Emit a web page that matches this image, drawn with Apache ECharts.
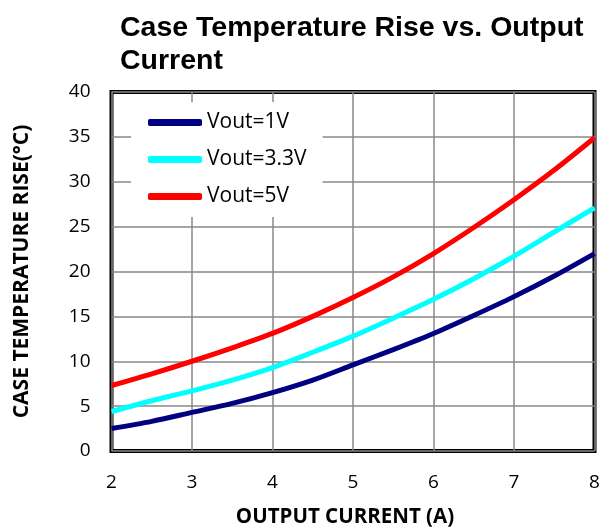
<!DOCTYPE html>
<html>
<head>
<meta charset="utf-8">
<script src="https://cdn.jsdelivr.net/npm/echarts@6/dist/echarts.min.js"></script>
<style>
  html, body { margin: 0; padding: 0; background: #fff; }
  #chart { width: 600px; height: 527px; }
</style>
</head>
<body>
<div id="chart"></div>
<script>
// output current (A)
const currents = [2, 2.5, 3, 3.5, 4, 4.5, 5, 5.5, 6, 6.5, 7, 7.5, 8];
// case temperature rise (°C) for each output voltage
const rise1V = [2.5, 3.3, 4.3, 5.3, 6.5, 7.9, 9.6, 11.3, 13.1, 15.1, 17.2, 19.5, 22.0];
const rise3V3 = [4.4, 5.6, 6.7, 7.9, 9.3, 11.0, 12.8, 14.8, 16.9, 19.2, 21.7, 24.4, 27.1];
const rise5V = [7.3, 8.6, 10.0, 11.5, 13.1, 15.0, 17.1, 19.4, 22.0, 24.9, 28.0, 31.3, 34.9];
const seriesNames = ['Vout=1V', 'Vout=3.3V', 'Vout=5V'];
const seriesColors = ['#000080', '#00ffff', '#ff0000'];

const chart = echarts.init(document.getElementById('chart'));

const makeSeries = (name, values, color) => ({
  name: name,
  type: 'line',
  smooth: 0.3,
  showSymbol: false,
  data: currents.map((x, i) => [x, values[i]]),
  lineStyle: { color: color, width: 5 },
  itemStyle: { color: color }
});

const option = {
  animation: false,
  title: {
    text: 'Case Temperature Rise vs. Output\nCurrent',
    left: 115,
    top: 7,
    textStyle: {
      fontFamily: 'Liberation Sans',
      fontWeight: 'bold',
      fontSize: 28.5,
      lineHeight: 33,
      color: '#000'
    }
  },
  legend: {
    orient: 'vertical',
    left: 131,
    top: 102,
    padding: [10, 16, 10, 17],
    backgroundColor: '#fff',
    itemWidth: 54,
    itemHeight: 7,
    itemGap: 16,
    icon: 'roundRect',
    data: seriesNames,
    textStyle: { fontFamily: 'Open Sans', fontSize: 21, color: '#000' }
  },
  grid: {
    left: 111.5,
    right: 5.5,
    top: 92,
    bottom: 76,
    outerBoundsMode: 'none',
    show: true,
    borderColor: '#000',
    borderWidth: 4
  },
  xAxis: {
    type: 'value',
    min: 2,
    max: 8,
    interval: 1,
    name: 'OUTPUT CURRENT (A)',
    nameLocation: 'middle',
    nameGap: 56,
    nameTextStyle: {
      fontFamily: 'Open Sans', fontWeight: 'bold', fontSize: 20.5, color: '#000',
      padding: [0, 16, 0, 0]
    },
    axisLine: { show: false },
    axisTick: { show: false },
    axisLabel: { fontFamily: 'Open Sans', fontSize: 19, color: '#000', margin: 22 },
    splitLine: { lineStyle: { color: '#888', width: 1.5 } }
  },
  yAxis: {
    type: 'value',
    min: 0,
    max: 40,
    interval: 5,
    name: 'CASE TEMPERATURE RISE(\u00b0C)',
    nameLocation: 'middle',
    nameGap: 79,
    nameTextStyle: { fontFamily: 'Open Sans', fontWeight: 'bold', fontSize: 21, color: '#000' },
    axisLine: { show: false },
    axisTick: { show: false },
    axisLabel: { fontFamily: 'Open Sans', fontSize: 19, color: '#000', margin: 21 },
    splitLine: { lineStyle: { color: '#888', width: 1.5 } }
  },
  series: [
    makeSeries(seriesNames[0], rise1V, seriesColors[0]),
    makeSeries(seriesNames[1], rise3V3, seriesColors[1]),
    makeSeries(seriesNames[2], rise5V, seriesColors[2])
  ]
};

chart.setOption(option);
</script>
</body>
</html>
